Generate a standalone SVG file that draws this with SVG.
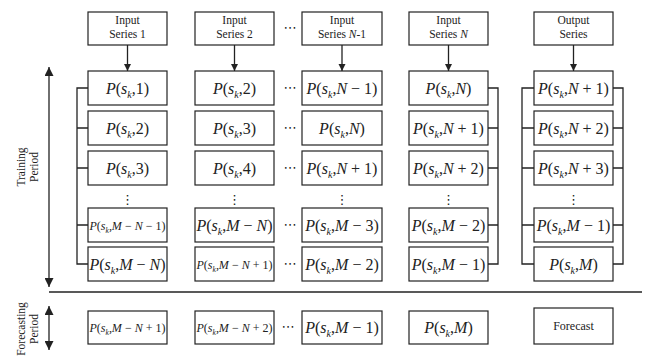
<svg xmlns="http://www.w3.org/2000/svg" width="645" height="359" viewBox="0 0 645 359">
<style>
.bx{fill:#fff;stroke:#222;stroke-width:1.2}
.ln{fill:none;stroke:#222;stroke-width:1.3}
.t{font-family:"Liberation Serif","Times New Roman",serif;font-size:11.5px;fill:#222;text-anchor:middle}
.m{font-family:"Liberation Serif","Times New Roman",serif;font-size:16px;fill:#222;text-anchor:middle}
.s{font-family:"Liberation Serif","Times New Roman",serif;font-size:12px;fill:#222;text-anchor:middle}
.i{font-style:italic}
.k{font-style:italic;font-size:10px}
.ks{font-style:italic;font-size:7.5px}
.d{font-family:"DejaVu Sans",sans-serif;font-size:13px;fill:#222;text-anchor:middle}
</style>
<defs>
<marker id="ah" viewBox="0 0 10 10" refX="10" refY="5" markerWidth="7" markerHeight="8" markerUnits="userSpaceOnUse" orient="auto-start-reverse"><path d="M0,0 L10,5 L0,10 z" fill="#222"/></marker>
<marker id="ab" viewBox="0 0 10 10" refX="10" refY="5" markerWidth="9" markerHeight="9" markerUnits="userSpaceOnUse" orient="auto-start-reverse"><path d="M0,0 L10,5 L0,10 z" fill="#222"/></marker>
</defs>

<g id="connectors">
<line class="ln" x1="127.5" y1="45" x2="127.5" y2="71" marker-end="url(#ah)"/>
<line class="ln" x1="234.5" y1="45" x2="234.5" y2="71" marker-end="url(#ah)"/>
<line class="ln" x1="342" y1="45" x2="342" y2="71" marker-end="url(#ah)"/>
<line class="ln" x1="448.5" y1="45" x2="448.5" y2="71" marker-end="url(#ah)"/>
<line class="ln" x1="573.5" y1="45" x2="573.5" y2="71" marker-end="url(#ah)"/>
<path class="ln" d="M88,88 H77 V264 H88 M77,128 H88 M77,168 H88 M77,225 H88"/>
<path class="ln" d="M488,88 H498 V264 H488 M498,128 H488 M498,168 H488 M498,225 H488"/>
<path class="ln" d="M534,88 H522 V264 H534 M522,128 H534 M522,168 H534 M522,225 H534"/>
<path class="ln" d="M613,88 H623 V264 H613 M623,128 H613 M623,168 H613 M623,225 H613"/>
<line class="ln" x1="49" y1="67" x2="49" y2="287" marker-start="url(#ab)" marker-end="url(#ab)"/>
<line class="ln" x1="49" y1="306" x2="49" y2="350" marker-start="url(#ab)" marker-end="url(#ab)"/>
<line class="ln" x1="49" y1="292" x2="642" y2="292"/>
</g>

<g id="labels">
<text class="t" transform="translate(0,167) rotate(-90)"><tspan x="0" y="25">Training</tspan><tspan x="0" y="38">Period</tspan></text>
<text class="t" transform="translate(0,329) rotate(-90)"><tspan x="0" y="25">Forecasting</tspan><tspan x="0" y="38">Period</tspan></text>
<text class="d" x="290" y="32">⋯</text>
<text class="d" x="290" y="92">⋯</text>
<text class="d" x="290" y="132">⋯</text>
<text class="d" x="290" y="172">⋯</text>
<text class="d" x="290" y="229">⋯</text>
<text class="d" x="290" y="268">⋯</text>
<text class="d" x="288" y="331">⋯</text>
<text class="d" x="127.5" y="204">⋮</text>
<text class="d" x="234.5" y="204">⋮</text>
<text class="d" x="342" y="204">⋮</text>
<text class="d" x="448.5" y="204">⋮</text>
<text class="d" x="573.5" y="204">⋮</text>
</g>

<g id="in1"><rect class="bx" x="88" y="12" width="79" height="33"/><text class="t"><tspan x="127.5" y="24">Input</tspan><tspan x="127.5" y="38">Series 1</tspan></text></g>
<g id="in2"><rect class="bx" x="195" y="12" width="79" height="33"/><text class="t"><tspan x="234.5" y="24">Input</tspan><tspan x="234.5" y="38">Series 2</tspan></text></g>
<g id="in3"><rect class="bx" x="302" y="12" width="80" height="33"/><text class="t"><tspan x="342" y="24">Input</tspan><tspan x="342" y="38">Series <tspan class="i">N</tspan>-1</tspan></text></g>
<g id="in4"><rect class="bx" x="409" y="12" width="79" height="33"/><text class="t"><tspan x="448.5" y="24">Input</tspan><tspan x="448.5" y="38">Series <tspan class="i">N</tspan></tspan></text></g>
<g id="out"><rect class="bx" x="534" y="12" width="79" height="33"/><text class="t"><tspan x="573.5" y="24">Output</tspan><tspan x="573.5" y="38">Series</tspan></text></g>

<!-- column 1 -->
<g id="c1r1"><rect class="bx" x="88" y="71" width="79" height="34"/><text class="m" x="127.5" y="94"><tspan class="i">P</tspan>(<tspan class="i">s</tspan><tspan class="k" dy="4">k</tspan><tspan dy="-4">,1)</tspan></text></g>
<g id="c1r2"><rect class="bx" x="88" y="111" width="79" height="34"/><text class="m" x="127.5" y="134"><tspan class="i">P</tspan>(<tspan class="i">s</tspan><tspan class="k" dy="4">k</tspan><tspan dy="-4">,2)</tspan></text></g>
<g id="c1r3"><rect class="bx" x="88" y="151" width="79" height="34"/><text class="m" x="127.5" y="174"><tspan class="i">P</tspan>(<tspan class="i">s</tspan><tspan class="k" dy="4">k</tspan><tspan dy="-4">,3)</tspan></text></g>
<g id="c1r4"><rect class="bx" x="88" y="208" width="79" height="34"/><text class="s" x="127.5" y="229.5" textLength="76" lengthAdjust="spacingAndGlyphs"><tspan class="i">P</tspan>(<tspan class="i">s</tspan><tspan class="ks" dy="3">k</tspan><tspan dy="-3">,</tspan><tspan class="i">M</tspan> − <tspan class="i">N</tspan> − 1)</text></g>
<g id="c1r5"><rect class="bx" x="88" y="247" width="79" height="34"/><text class="m" x="127.5" y="270"><tspan class="i">P</tspan>(<tspan class="i">s</tspan><tspan class="k" dy="4">k</tspan><tspan dy="-4">,</tspan><tspan class="i">M</tspan> − <tspan class="i">N</tspan>)</text></g>
<g id="c1f"><rect class="bx" x="88" y="311" width="79" height="33"/><text class="s" x="127.5" y="332" textLength="76" lengthAdjust="spacingAndGlyphs"><tspan class="i">P</tspan>(<tspan class="i">s</tspan><tspan class="ks" dy="3">k</tspan><tspan dy="-3">,</tspan><tspan class="i">M</tspan> − <tspan class="i">N</tspan> + 1)</text></g>

<!-- column 2 -->
<g id="c2r1"><rect class="bx" x="195" y="71" width="79" height="34"/><text class="m" x="234.5" y="94"><tspan class="i">P</tspan>(<tspan class="i">s</tspan><tspan class="k" dy="4">k</tspan><tspan dy="-4">,2)</tspan></text></g>
<g id="c2r2"><rect class="bx" x="195" y="111" width="79" height="34"/><text class="m" x="234.5" y="134"><tspan class="i">P</tspan>(<tspan class="i">s</tspan><tspan class="k" dy="4">k</tspan><tspan dy="-4">,3)</tspan></text></g>
<g id="c2r3"><rect class="bx" x="195" y="151" width="79" height="34"/><text class="m" x="234.5" y="174"><tspan class="i">P</tspan>(<tspan class="i">s</tspan><tspan class="k" dy="4">k</tspan><tspan dy="-4">,4)</tspan></text></g>
<g id="c2r4"><rect class="bx" x="195" y="208" width="79" height="34"/><text class="m" x="234.5" y="231"><tspan class="i">P</tspan>(<tspan class="i">s</tspan><tspan class="k" dy="4">k</tspan><tspan dy="-4">,</tspan><tspan class="i">M</tspan> − <tspan class="i">N</tspan>)</text></g>
<g id="c2r5"><rect class="bx" x="195" y="247" width="79" height="34"/><text class="s" x="234.5" y="268.5" textLength="76" lengthAdjust="spacingAndGlyphs"><tspan class="i">P</tspan>(<tspan class="i">s</tspan><tspan class="ks" dy="3">k</tspan><tspan dy="-3">,</tspan><tspan class="i">M</tspan> − <tspan class="i">N</tspan> + 1)</text></g>
<g id="c2f"><rect class="bx" x="195" y="311" width="79" height="33"/><text class="s" x="234.5" y="332" textLength="76" lengthAdjust="spacingAndGlyphs"><tspan class="i">P</tspan>(<tspan class="i">s</tspan><tspan class="ks" dy="3">k</tspan><tspan dy="-3">,</tspan><tspan class="i">M</tspan> − <tspan class="i">N</tspan> + 2)</text></g>

<!-- column 3 -->
<g id="c3r1"><rect class="bx" x="302" y="71" width="80" height="34"/><text class="m" x="342" y="94"><tspan class="i">P</tspan>(<tspan class="i">s</tspan><tspan class="k" dy="4">k</tspan><tspan dy="-4">,</tspan><tspan class="i">N</tspan> − 1)</text></g>
<g id="c3r2"><rect class="bx" x="302" y="111" width="80" height="34"/><text class="m" x="342" y="134"><tspan class="i">P</tspan>(<tspan class="i">s</tspan><tspan class="k" dy="4">k</tspan><tspan dy="-4">,</tspan><tspan class="i">N</tspan>)</text></g>
<g id="c3r3"><rect class="bx" x="302" y="151" width="80" height="34"/><text class="m" x="342" y="174"><tspan class="i">P</tspan>(<tspan class="i">s</tspan><tspan class="k" dy="4">k</tspan><tspan dy="-4">,</tspan><tspan class="i">N</tspan> + 1)</text></g>
<g id="c3r4"><rect class="bx" x="302" y="208" width="80" height="34"/><text class="m" x="342" y="231"><tspan class="i">P</tspan>(<tspan class="i">s</tspan><tspan class="k" dy="4">k</tspan><tspan dy="-4">,</tspan><tspan class="i">M</tspan> − 3)</text></g>
<g id="c3r5"><rect class="bx" x="302" y="247" width="80" height="34"/><text class="m" x="342" y="270"><tspan class="i">P</tspan>(<tspan class="i">s</tspan><tspan class="k" dy="4">k</tspan><tspan dy="-4">,</tspan><tspan class="i">M</tspan> − 2)</text></g>
<g id="c3f"><rect class="bx" x="302" y="311" width="80" height="33"/><text class="m" x="342" y="333"><tspan class="i">P</tspan>(<tspan class="i">s</tspan><tspan class="k" dy="4">k</tspan><tspan dy="-4">,</tspan><tspan class="i">M</tspan> − 1)</text></g>

<!-- column 4 -->
<g id="c4r1"><rect class="bx" x="409" y="71" width="79" height="34"/><text class="m" x="448.5" y="94"><tspan class="i">P</tspan>(<tspan class="i">s</tspan><tspan class="k" dy="4">k</tspan><tspan dy="-4">,</tspan><tspan class="i">N</tspan>)</text></g>
<g id="c4r2"><rect class="bx" x="409" y="111" width="79" height="34"/><text class="m" x="448.5" y="134"><tspan class="i">P</tspan>(<tspan class="i">s</tspan><tspan class="k" dy="4">k</tspan><tspan dy="-4">,</tspan><tspan class="i">N</tspan> + 1)</text></g>
<g id="c4r3"><rect class="bx" x="409" y="151" width="79" height="34"/><text class="m" x="448.5" y="174"><tspan class="i">P</tspan>(<tspan class="i">s</tspan><tspan class="k" dy="4">k</tspan><tspan dy="-4">,</tspan><tspan class="i">N</tspan> + 2)</text></g>
<g id="c4r4"><rect class="bx" x="409" y="208" width="79" height="34"/><text class="m" x="448.5" y="231"><tspan class="i">P</tspan>(<tspan class="i">s</tspan><tspan class="k" dy="4">k</tspan><tspan dy="-4">,</tspan><tspan class="i">M</tspan> − 2)</text></g>
<g id="c4r5"><rect class="bx" x="409" y="247" width="79" height="34"/><text class="m" x="448.5" y="270"><tspan class="i">P</tspan>(<tspan class="i">s</tspan><tspan class="k" dy="4">k</tspan><tspan dy="-4">,</tspan><tspan class="i">M</tspan> − 1)</text></g>
<g id="c4f"><rect class="bx" x="409" y="311" width="79" height="33"/><text class="m" x="448.5" y="333"><tspan class="i">P</tspan>(<tspan class="i">s</tspan><tspan class="k" dy="4">k</tspan><tspan dy="-4">,</tspan><tspan class="i">M</tspan>)</text></g>

<!-- column 5 -->
<g id="c5r1"><rect class="bx" x="534" y="71" width="79" height="34"/><text class="m" x="573.5" y="94"><tspan class="i">P</tspan>(<tspan class="i">s</tspan><tspan class="k" dy="4">k</tspan><tspan dy="-4">,</tspan><tspan class="i">N</tspan> + 1)</text></g>
<g id="c5r2"><rect class="bx" x="534" y="111" width="79" height="34"/><text class="m" x="573.5" y="134"><tspan class="i">P</tspan>(<tspan class="i">s</tspan><tspan class="k" dy="4">k</tspan><tspan dy="-4">,</tspan><tspan class="i">N</tspan> + 2)</text></g>
<g id="c5r3"><rect class="bx" x="534" y="151" width="79" height="34"/><text class="m" x="573.5" y="174"><tspan class="i">P</tspan>(<tspan class="i">s</tspan><tspan class="k" dy="4">k</tspan><tspan dy="-4">,</tspan><tspan class="i">N</tspan> + 3)</text></g>
<g id="c5r4"><rect class="bx" x="534" y="208" width="79" height="34"/><text class="m" x="573.5" y="231"><tspan class="i">P</tspan>(<tspan class="i">s</tspan><tspan class="k" dy="4">k</tspan><tspan dy="-4">,</tspan><tspan class="i">M</tspan> − 1)</text></g>
<g id="c5r5"><rect class="bx" x="534" y="247" width="79" height="34"/><text class="m" x="573.5" y="270"><tspan class="i">P</tspan>(<tspan class="i">s</tspan><tspan class="k" dy="4">k</tspan><tspan dy="-4">,</tspan><tspan class="i">M</tspan>)</text></g>
<g id="forecast"><rect class="bx" x="534" y="308" width="79" height="36"/><text class="s" x="573.5" y="330">Forecast</text></g>
</svg>
